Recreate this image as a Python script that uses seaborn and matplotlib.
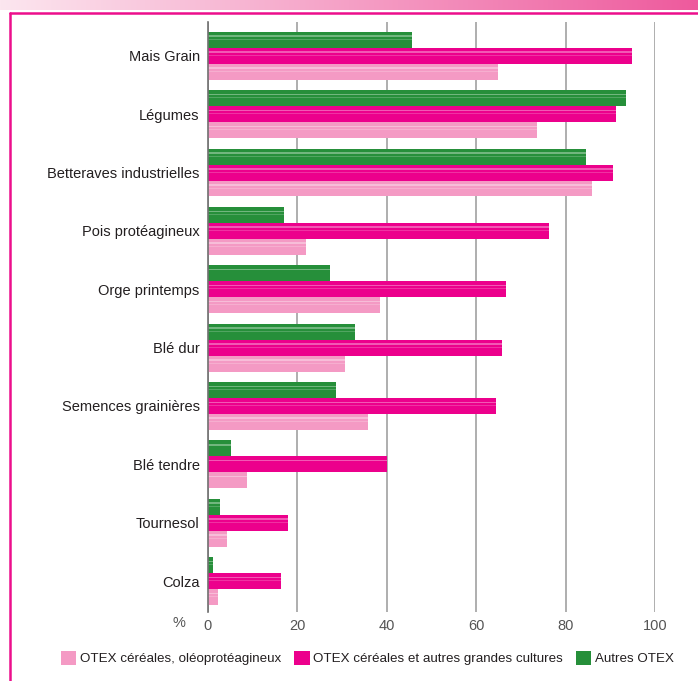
import numpy as np
import pandas as pd
import matplotlib
matplotlib.use("Agg")
import matplotlib.pyplot as plt
import seaborn as sns
from matplotlib.patches import Patch, Rectangle
from matplotlib.lines import Line2D
from matplotlib.colors import LinearSegmentedColormap

# Data (% of farms)
cultures = ['Mais Grain', 'Légumes', 'Betteraves industrielles', 'Pois protéagineux',
            'Orge printemps', 'Blé dur', 'Semences grainières', 'Blé tendre',
            'Tournesol', 'Colza']
series_names = ['OTEX céréales, oléoprotéagineux',
                'OTEX céréales et autres grandes cultures',
                'Autres OTEX']
otex_cop = [64.8, 73.6, 85.9, 21.9, 38.5, 30.6, 35.8, 8.7, 4.3, 2.2]
otex_gc = [94.9, 91.3, 90.6, 76.3, 66.7, 65.8, 64.4, 40.0, 17.9, 16.3]
autres = [45.6, 93.5, 84.6, 17.0, 27.3, 32.9, 28.6, 5.1, 2.7, 1.1]
x_ticks = [0, 20, 40, 60, 80, 100]

colors = {
    series_names[0]: '#f49ac4',
    series_names[1]: '#ec008c',
    series_names[2]: '#268f3a',
}

df = pd.DataFrame({
    'culture': cultures * 3,
    'otex': np.repeat(series_names, len(cultures)),
    'value': otex_cop + otex_gc + autres,
})

sns.set_theme(style="white")
plt.rcParams['font.family'] = ['Liberation Sans', 'DejaVu Sans']

W, H = 698, 681
fig = plt.figure(figsize=(W / 100, H / 100), dpi=100)
ax = fig.add_axes([208 / W, 1 - 612 / H, (655 - 208) / W, (612 - 22) / H])

# green on top, then magenta, then light pink inside each group
sns.barplot(data=df, x='value', y='culture', hue='otex', order=cultures,
            hue_order=[series_names[2], series_names[1], series_names[0]],
            palette=colors, orient='h', width=0.82, dodge=True,
            saturation=1, legend=False, errorbar=None, linewidth=0, ax=ax)

# soft glossy stripes on each bar
for p in list(ax.patches):
    h = p.get_height()
    ax.add_patch(Rectangle((p.get_x(), p.get_y() + 0.22 * h), p.get_width(), 0.1 * h,
                           facecolor='white', alpha=0.35, lw=0))
    ax.add_patch(Rectangle((p.get_x(), p.get_y() + 0.45 * h), p.get_width(), 0.05 * h,
                           facecolor='white', alpha=0.2, lw=0))

ax.set_xlim(0, 100)
ax.set_ylim(9.53, -0.58)
ax.set_xticks(x_ticks)
ax.grid(axis='x', color='#a8a8a8', lw=1.3)
ax.set_axisbelow(True)
for s in ['top', 'right', 'bottom']:
    ax.spines[s].set_visible(False)
ax.spines['left'].set_color('#707070')
ax.spines['left'].set_linewidth(1.2)
ax.set_xlabel('')
ax.set_ylabel('')
ax.tick_params(axis='x', length=0, pad=5, labelsize=10.5, labelcolor='#555555')
ax.tick_params(axis='y', length=0, pad=6, labelsize=10.5, labelcolor='#231f20')
fig.text(179 / W, 1 - 623 / H, '%', ha='center', va='center', fontsize=10.5, color='#555555')

# legend
handles = [Patch(facecolor=colors[n], edgecolor='none', label=n) for n in series_names]
fig.legend(handles=handles, loc='center left', bbox_to_anchor=(49 / W, 1 - 658 / H),
           ncol=3, frameon=False, fontsize=9.6, handlelength=1.15, handleheight=1.3,
           handletextpad=0.25, columnspacing=1.0, labelcolor='#231f20')

# decorative frame: gradient band and magenta border
band = fig.add_axes([0, 1 - 10 / H, 1, 10 / H])
cmap = LinearSegmentedColormap.from_list('band', ['#fce6ef', '#ee5a9d'])
band.imshow(np.linspace(0, 1, 256)[None, :], aspect='auto', cmap=cmap)
band.axis('off')
fig.add_artist(Line2D([10 / W, 1], [1 - 12.5 / H, 1 - 12.5 / H], transform=fig.transFigure,
                      color='#ec0f8c', lw=1.8))
fig.add_artist(Line2D([10 / W, 10 / W], [0, 1 - 12.5 / H], transform=fig.transFigure,
                      color='#ec0f8c', lw=1.8))

fig.savefig('out.png', dpi=100)
